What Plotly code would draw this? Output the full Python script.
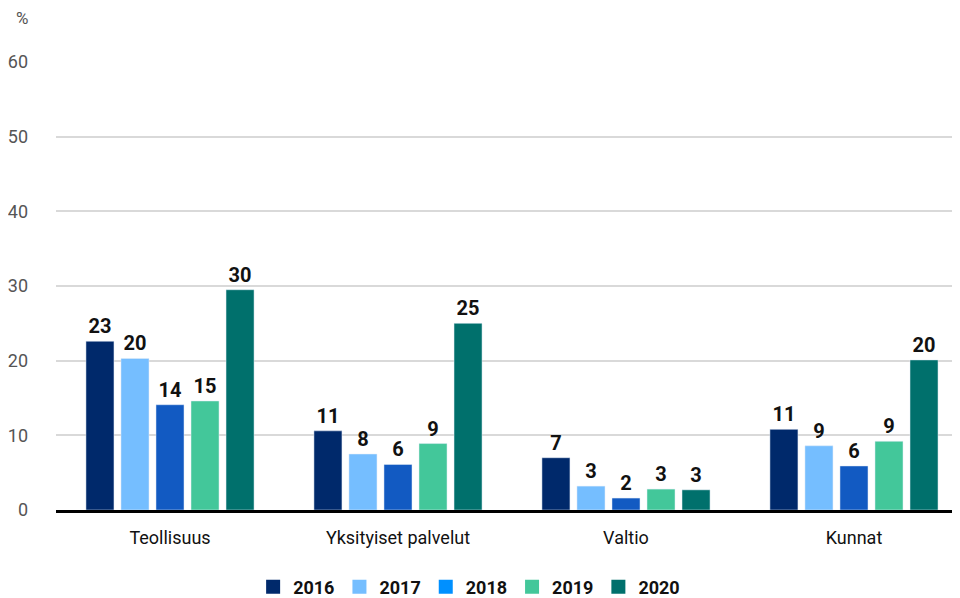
import plotly.graph_objects as go

categories = ["Teollisuus", "Yksityiset palvelut", "Valtio", "Kunnat"]
years = ["2016", "2017", "2018", "2019", "2020"]
v2016 = [22.6, 10.6, 7.0, 10.8]
v2017 = [20.3, 7.5, 3.2, 8.6]
v2018 = [14.1, 6.1, 1.6, 5.9]
v2019 = [14.6, 8.9, 2.8, 9.2]
v2020 = [29.5, 25.0, 2.7, 20.1]
series = [v2016, v2017, v2018, v2019, v2020]
bar_colors = ["#00296B", "#75BEFF", "#125AC2", "#43C79A", "#00706C"]
legend_colors = ["#00296B", "#75BEFF", "#0090FF", "#43C79A", "#00706C"]
y_ticks = [0, 10, 20, 30, 40, 50, 60]

FONT = "Roboto, sans-serif"

fig = go.Figure()
for name, vals, col in zip(years, series, bar_colors):
    fig.add_trace(go.Bar(
        x=categories, y=vals, name=name, marker_color=col, showlegend=False,
        text=[f"{round(v)}" for v in vals], textposition="outside",
        textfont=dict(family=FONT, size=20, color="#111111", weight="bold"),
        cliponaxis=False,
    ))
for name, col in zip(years, legend_colors):
    fig.add_trace(go.Scatter(
        x=[None], y=[None], mode="markers", name=name,
        marker=dict(symbol="square", size=14, color=col),
    ))

# the page body adds an 8px offset, so the figure is sized to fill the rest
fig.update_layout(
    width=952, height=590,
    margin=dict(l=48, r=0, t=54, b=88, autoexpand=False),
    paper_bgcolor="white", plot_bgcolor="white",
    barmode="group", bargap=0.232, bargroupgap=0.2,
    font=dict(family=FONT, size=17, color="#222222"),
    showlegend=True,
    legend=dict(orientation="h", x=0.457, xanchor="center", y=-0.172, yanchor="middle",
                font=dict(family=FONT, size=18, color="#111111", weight="bold"),
                itemwidth=30, tracegroupgap=0),
)
fig.update_xaxes(
    range=[-0.5, 3.465], showgrid=False, showline=True, linecolor="black",
    linewidth=3, ticks="", ticklabelstandoff=9,
    tickfont=dict(family=FONT, size=18, color="#111111"),
)
fig.update_yaxes(
    range=[0, 60], tickvals=y_ticks, showgrid=True, gridcolor="#D9D9D9",
    gridwidth=2, zeroline=False, showline=False, ticks="",
    ticklabelstandoff=27, tickfont=dict(family=FONT, size=18, color="#555555"),
)
fig.add_annotation(text="%", xref="paper", yref="paper", x=-0.0376, y=1.098,
                   xanchor="center", yanchor="middle", showarrow=False,
                   font=dict(family=FONT, size=17, color="#555555"))

fig.write_html("out.html")
